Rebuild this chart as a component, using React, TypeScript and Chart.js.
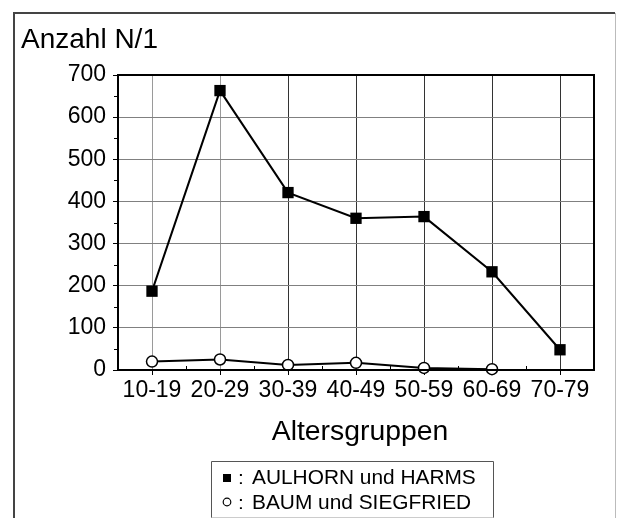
import { useEffect, useRef } from 'react';
import { Chart, registerables } from 'chart.js';

Chart.register(...registerables);

const categories = ['10-19', '20-29', '30-39', '40-49', '50-59', '60-69', '70-79'];
const aulhornHarms = [187, 663, 421, 360, 364, 233, 48];
const baumSiegfried = [20, 25, 12, 17, 5, 2, null];
const seriesNames = ['AULHORN und HARMS', 'BAUM und SIEGFRIED'];
const yAxisTitle = 'Anzahl N/1';
const xAxisTitle = 'Altersgruppen';
const yMin = 0;
const yMax = 700;
const yStep = 100;

const FONT = "'Liberation Sans', Arial, sans-serif";

function drawText(ctx: CanvasRenderingContext2D, text: string, x: number, y: number, size: number, sx: number, align: CanvasTextAlign) {
  ctx.save();
  ctx.font = `${size}px ${FONT}`;
  ctx.fillStyle = '#000';
  ctx.textBaseline = 'alphabetic';
  ctx.translate(x, y);
  ctx.scale(sx, 1);
  ctx.textAlign = align;
  ctx.fillText(text, 0, 0);
  ctx.restore();
}

const decorPlugin = {
  id: 'decor',
  afterDraw(chart: any) {
    const { ctx, chartArea: a, scales } = chart;
    const xs = scales.x;
    const ys = scales.y;
    ctx.save();
    // plot frame
    ctx.strokeStyle = '#000';
    ctx.lineWidth = 2;
    ctx.strokeRect(a.left, a.top, a.right - a.left, a.bottom - a.top);
    // minor x ticks (inside)
    ctx.lineWidth = 1;
    for (let i = 0; i < categories.length - 1; i++) {
      const px = Math.round((xs.getPixelForValue(i) + xs.getPixelForValue(i + 1)) / 2) + 0.5;
      ctx.beginPath();
      ctx.moveTo(px, a.bottom);
      ctx.lineTo(px, a.bottom - 4);
      ctx.stroke();
    }
    // minor y ticks (outside)
    for (let v = yMin + yStep / 2; v < yMax; v += yStep) {
      const py = Math.round(ys.getPixelForValue(v)) + 0.5;
      ctx.beginPath();
      ctx.moveTo(a.left, py);
      ctx.lineTo(a.left - 4, py);
      ctx.stroke();
    }
    // outer frame
    ctx.strokeStyle = '#444';
    ctx.lineWidth = 2;
    ctx.beginPath();
    ctx.moveTo(14, 518);
    ctx.lineTo(14, 13);
    ctx.lineTo(615, 13);
    ctx.stroke();
    ctx.strokeStyle = '#bbb';
    ctx.lineWidth = 1;
    ctx.beginPath();
    ctx.moveTo(615.5, 13);
    ctx.lineTo(615.5, 518);
    ctx.stroke();

    // titles
    drawText(ctx, yAxisTitle, 21, 48, 28, 1, 'left');
    drawText(ctx, xAxisTitle, (a.left + a.right) / 2 + 4, 440, 27, 1.05, 'center');

    // legend box
    ctx.strokeStyle = '#555';
    ctx.lineWidth = 1;
    ctx.beginPath();
    ctx.moveTo(211.5, 518);
    ctx.lineTo(211.5, 461.5);
    ctx.lineTo(493.5, 461.5);
    ctx.lineTo(493.5, 518);
    ctx.stroke();
    ctx.strokeStyle = '#ccc';
    ctx.beginPath();
    ctx.moveTo(211.5, 517.5);
    ctx.lineTo(493.5, 517.5);
    ctx.stroke();

    // legend entries
    ctx.fillStyle = '#000';
    ctx.fillRect(223, 474, 8, 8);
    ctx.strokeStyle = '#000';
    ctx.lineWidth = 1.2;
    ctx.beginPath();
    ctx.arc(227, 502, 3.8, 0, Math.PI * 2);
    ctx.stroke();
    drawText(ctx, ':', 238, 484, 19, 1.1, 'left');
    drawText(ctx, ':', 238, 509, 19, 1.1, 'left');
    drawText(ctx, seriesNames[0], 252, 484, 19.5, 1.07, 'left');
    drawText(ctx, seriesNames[1], 252, 509, 19.5, 1.07, 'left');
    ctx.restore();
  },
};

export default function App() {
  const ref = useRef<HTMLCanvasElement | null>(null);
  useEffect(() => {
    if (!ref.current) return;
    const chart = new Chart(ref.current, {
      type: 'line',
      data: {
        labels: categories,
        datasets: [
          {
            label: seriesNames[1],
            data: baumSiegfried,
            borderColor: '#000',
            borderWidth: 2,
            backgroundColor: '#fff',
            pointStyle: 'circle',
            pointRadius: 5.5,
            pointBorderWidth: 1.5,
            pointBackgroundColor: '#fff',
            pointBorderColor: '#000',
            tension: 0,
            clip: false as any,
            spanGaps: false,
          },
          {
            label: seriesNames[0],
            data: aulhornHarms,
            borderColor: '#000',
            borderWidth: 2,
            backgroundColor: '#000',
            pointStyle: 'rect',
            pointRadius: 8,
            pointBorderWidth: 0,
            pointBackgroundColor: '#000',
            tension: 0,
            clip: false as any,
          },
        ],
      },
      options: {
        animation: false,
        responsive: false,
        events: [],
        layout: { padding: { left: 0, right: 24, top: 75, bottom: 118 } },
        plugins: { legend: { display: false }, tooltip: { enabled: false }, title: { display: false } },
        scales: {
          x: {
            type: 'category',
            offset: true,
            afterFit: (s: any) => { s.height = 30; },
            grid: {
              color: (c: any) => (c.index < 2 ? '#9a9a9a' : '#333'),
              lineWidth: 1,
              tickLength: 5,
              offset: false,
              drawTicks: true,
              tickColor: '#000',
            },
            border: { color: '#000', width: 2 },
            ticks: { color: '#000', font: { family: FONT, size: 23 }, padding: 2, maxRotation: 0, autoSkip: false },
          },
          y: {
            type: 'linear',
            min: yMin,
            max: yMax,
            afterFit: (s: any) => { s.width = 118; },
            grid: { color: '#808080', lineWidth: 1, tickLength: 5, drawTicks: true, tickColor: '#000' },
            border: { color: '#000', width: 2 },
            ticks: { stepSize: yStep, color: '#000', font: { family: FONT, size: 23 }, padding: 7 },
          },
        },
      },
      plugins: [decorPlugin],
    });
    return () => chart.destroy();
  }, []);
  return (
    <div style={{ position: 'fixed', left: 0, top: 0, width: 618, height: 518, background: '#fff' }}>
      <canvas ref={ref} width={618} height={518} style={{ width: 618, height: 518, display: 'block' }} />
    </div>
  );
}
